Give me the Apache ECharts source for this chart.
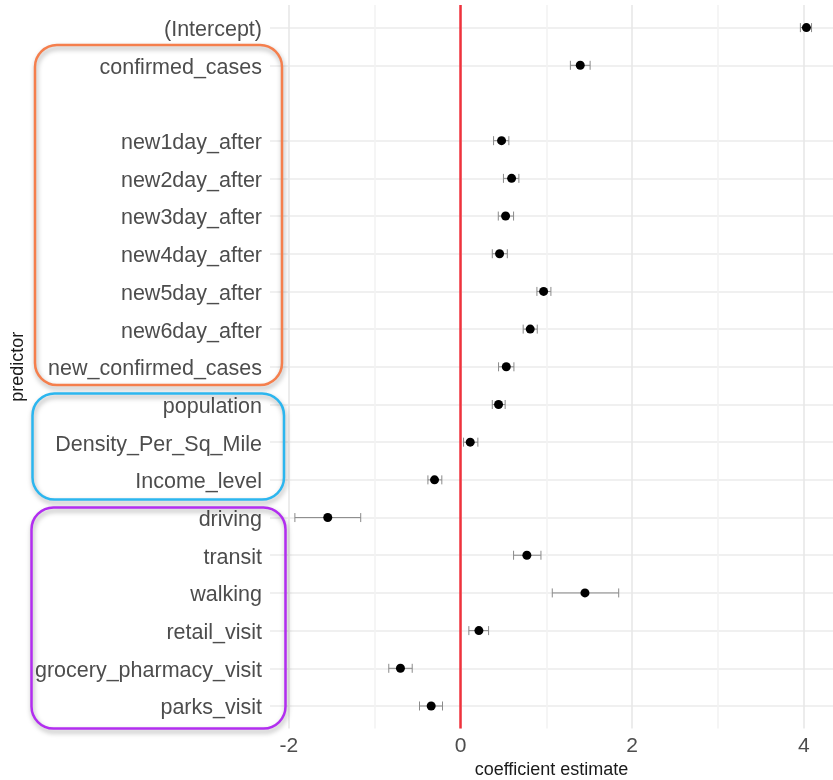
<!DOCTYPE html>
<html>
<head>
<meta charset="utf-8">
<script src="https://cdn.jsdelivr.net/npm/echarts@6/dist/echarts.min.js"></script>
<style>html,body{margin:0;padding:0;background:#fff;}#c{width:833px;height:780px;}</style>
</head>
<body>
<div id="c"></div>
<script>
// predictors from top to bottom ('' = empty row)
const predictors = ['(Intercept)','confirmed_cases','','new1day_after','new2day_after','new3day_after','new4day_after','new5day_after','new6day_after','new_confirmed_cases','population','Density_Per_Sq_Mile','Income_level','driving','transit','walking','retail_visit','grocery_pharmacy_visit','parks_visit'];
const estimate = [4.03, 1.395, null, 0.478, 0.595, 0.525, 0.455, 0.968, 0.812, 0.533, 0.443, 0.113, -0.303, -1.547, 0.773, 1.45, 0.214, -0.70, -0.342];
const lower    = [3.96, 1.28, null, 0.385, 0.50, 0.44, 0.37, 0.89, 0.73, 0.443, 0.37, 0.035, -0.38, -1.93, 0.618, 1.069, 0.097, -0.836, -0.478];
const upper    = [4.09, 1.51, null, 0.563, 0.68, 0.618, 0.545, 1.053, 0.894, 0.622, 0.52, 0.202, -0.218, -1.163, 0.937, 1.843, 0.327, -0.563, -0.210];
const xTickLabels = [-2, 0, 2, 4];

const FONT = 'Liberation Sans, Arial, Helvetica, sans-serif';
const pointData = [], barData = [];
predictors.forEach((p, i) => {
  if (estimate[i] == null) return;
  pointData.push([estimate[i], i]);
  barData.push([lower[i], upper[i], i]);
});
const hColors = predictors.map(p => p ? '#ebebeb' : 'rgba(0,0,0,0)');

const chart = echarts.init(document.getElementById('c'), null, {renderer: 'canvas'});
chart.setOption({
  backgroundColor: '#ffffff',
  animation: false,
  grid: {left: 270, right: 0, top: 5, bottom: 51.4, containLabel: false, outerBoundsMode: 'none'},
  xAxis: {
    type: 'value', min: -2.22, max: 4.34, splitNumber: 6,
    axisLine: {show: false}, axisTick: {show: false},
    axisLabel: {
      fontFamily: FONT, fontSize: 21, color: '#4d4d4d', margin: 7,
      showMinLabel: false, showMaxLabel: false,
      formatter: v => xTickLabels.indexOf(Math.round(v * 1000) / 1000) >= 0 ? String(Math.round(v)) : ''
    },
    splitLine: {show: true, showMinLine: false, showMaxLine: false,
      lineStyle: {color: ['#e8e8e8', '#f3f3f3'], width: 1.6}},
    name: 'coefficient estimate', nameLocation: 'middle', nameGap: 32, nameMoveOverlap: false,
    nameTextStyle: {fontFamily: FONT, fontSize: 18, color: '#1a1a1a'}
  },
  yAxis: {
    type: 'value', inverse: true, min: -0.6, max: 18.6, splitNumber: 19,
    axisLine: {show: false}, axisTick: {show: false},
    axisLabel: {
      color: '#4d4d4d', margin: 8,
      showMinLabel: false, showMaxLabel: false,
      formatter: v => Number.isInteger(v) && predictors[v] ? '{t|' + predictors[v] + '}' : '',
      rich: {t: {fontFamily: FONT, fontSize: 21.5, color: '#4d4d4d', padding: [5, 0, 0, 0]}}
    },
    splitLine: {show: true, showMinLine: false, showMaxLine: false,
      lineStyle: {color: hColors, width: 1.6}},
    name: 'predictor', nameLocation: 'middle', nameRotate: 90, nameGap: 243, nameMoveOverlap: false,
    nameTextStyle: {fontFamily: FONT, fontSize: 18, color: '#1a1a1a'}
  },
  series: [
    {
      type: 'custom', data: barData, encode: {x: [0, 1], y: 2}, z: 3, silent: true,
      renderItem: function (params, api) {
        const p1 = api.coord([api.value(0), api.value(2)]);
        const p2 = api.coord([api.value(1), api.value(2)]);
        const h = 4.5;
        const st = {stroke: '#8a8a8a', lineWidth: 1};
        return {type: 'group', children: [
          {type: 'line', shape: {x1: p1[0], y1: p1[1], x2: p2[0], y2: p2[1]}, style: st},
          {type: 'line', shape: {x1: p1[0], y1: p1[1] - h, x2: p1[0], y2: p1[1] + h}, style: st},
          {type: 'line', shape: {x1: p2[0], y1: p2[1] - h, x2: p2[0], y2: p2[1] + h}, style: st}
        ]};
      }
    },
    {
      type: 'scatter', data: pointData, symbol: 'circle', symbolSize: 9, z: 4,
      itemStyle: {color: '#000000', opacity: 1}, silent: true,
      markLine: {
        silent: true, symbol: ['none', 'none'], label: {show: false},
        lineStyle: {color: '#f0323c', width: 2.5, type: 'solid'},
        data: [{xAxis: 0}]
      }
    }
  ],
  graphic: [
    {type: 'rect', z: 10, shape: {x: 35, y: 45, width: 247, height: 340, r: 22},
      style: {fill: 'rgba(0,0,0,0)', stroke: '#f57f4d', lineWidth: 2.5, shadowBlur: 5, shadowColor: 'rgba(0,0,0,0.35)', shadowOffsetX: 1, shadowOffsetY: 3}},
    {type: 'rect', z: 10, shape: {x: 32.5, y: 393.5, width: 251.5, height: 106, r: 22},
      style: {fill: 'rgba(0,0,0,0)', stroke: '#2cb6ef', lineWidth: 2.5, shadowBlur: 5, shadowColor: 'rgba(0,0,0,0.35)', shadowOffsetX: 1, shadowOffsetY: 3}},
    {type: 'rect', z: 10, shape: {x: 31.5, y: 507.5, width: 254, height: 221, r: 22},
      style: {fill: 'rgba(0,0,0,0)', stroke: '#b22ef0', lineWidth: 2.5, shadowBlur: 5, shadowColor: 'rgba(0,0,0,0.35)', shadowOffsetX: 1, shadowOffsetY: 3}}
  ]
});
</script>
</body>
</html>
